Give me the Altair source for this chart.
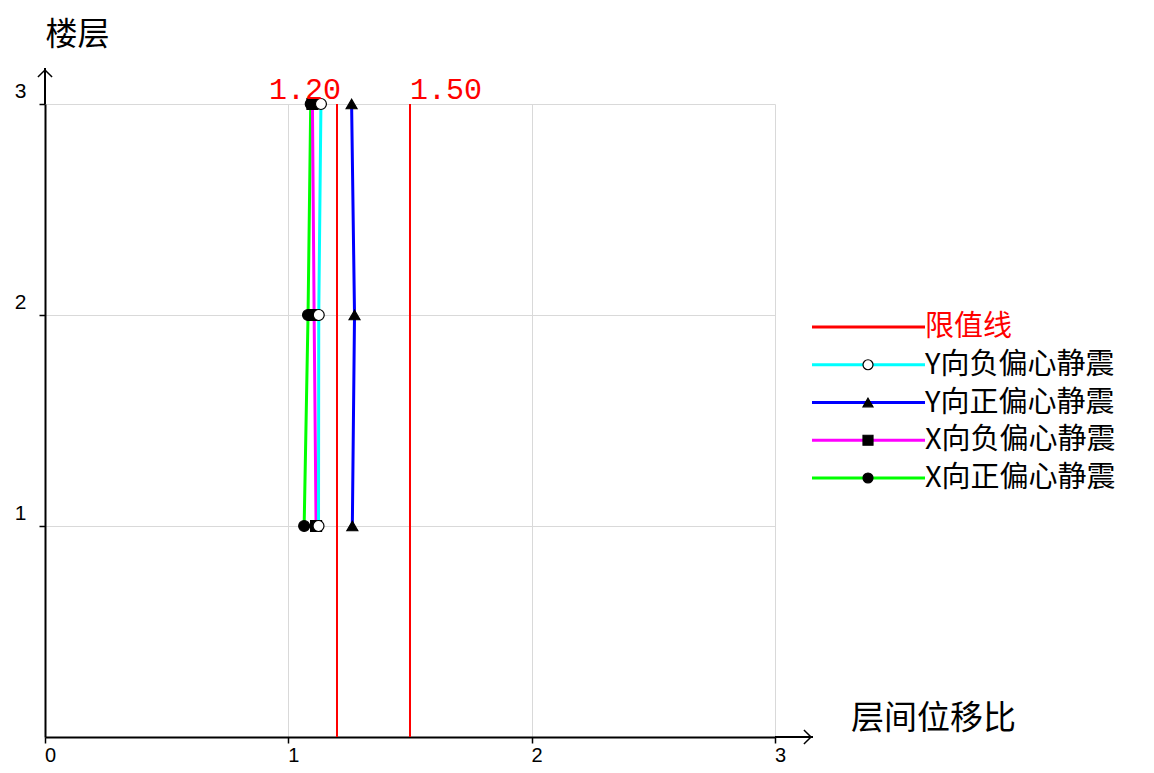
import altair as alt
import pandas as pd

# ---- data ----
floors = [1, 2, 3]
series_names = ["Y向负偏心静震", "Y向正偏心静震", "X向负偏心静震", "X向正偏心静震"]
y_neg_vals = [1.124, 1.125, 1.134]
y_pos_vals = [1.263, 1.272, 1.260]
x_neg_vals = [1.114, 1.106, 1.099]
x_pos_vals = [1.065, 1.081, 1.092]
limit_values = [1.20, 1.50]
limit_labels = ["1.20", "1.50"]
limit_name = "限值线"
x_ticks = [0, 1, 2, 3]
y_ticks = [1, 2, 3]

legend_names = [limit_name] + series_names
series_colors = ["#ff0000", "#00ffff", "#0000ff", "#ff00ff", "#00ff00"]
series_shapes = ["circle", "triangle-up", "square", "circle"]
series_fills = ["white", "black", "black", "black"]

all_vals = [y_neg_vals, y_pos_vals, x_neg_vals, x_pos_vals]
rows = []
# drawn in reverse legend order so the first legend series ends on top
for name, vals in reversed(list(zip(series_names, all_vals))):
    for f, v in zip(floors, vals):
        rows.append({"name": name, "floor": f, "ratio": v})
main_df = pd.DataFrame(rows)
limit_df = pd.DataFrame({"limit": limit_values, "label": limit_labels,
                         "name": [limit_name] * len(limit_values)})
leg_df = pd.DataFrame({"name": legend_names, "row": list(range(len(legend_names)))})
deco_df = pd.DataFrame({"a": [0]})

W, H = 730, 633
CJK = "Noto Sans CJK SC"

x_scale = alt.Scale(domain=[0, 3], nice=False, zero=False)
y_scale = alt.Scale(domain=[0, 3], nice=False, zero=False)
color_scale = alt.Scale(domain=legend_names, range=series_colors)
shape_scale = alt.Scale(domain=series_names, range=series_shapes)
fill_scale = alt.Scale(domain=series_names, range=series_fills)

x_axis = alt.Axis(values=x_ticks, format="d", grid=True, gridColor="#d9d9d9", gridWidth=1,
                  domainColor="black", domainWidth=2, tickColor="black", tickSize=6,
                  tickWidth=1.5, labelFont="Liberation Sans", labelFontSize=20,
                  labelColor="black", labelPadding=2, labelOffset=5, labelFlush=False,
                  labelBaseline="top",
                  title="层间位移比", titleFont=CJK, titleFontSize=33,
                  titleFontWeight="normal", titleColor="black", titleX=888, titleY=-19,
                  titleAlign="center", titleBaseline="middle")
y_axis = alt.Axis(values=y_ticks, format="d", grid=True, gridColor="#d9d9d9", gridWidth=1,
                  domainColor="black", domainWidth=2, tickColor="black", tickSize=6,
                  tickWidth=1.5, labelFont="Liberation Sans", labelFontSize=21,
                  labelColor="black", labelPadding=13, labelOffset=-13,
                  title="楼层", titleFont=CJK, titleFontSize=32, titleFontWeight="normal",
                  titleColor="black", titleAngle=0, titleX=32, titleY=-70,
                  titleAlign="center", titleBaseline="middle")

X = alt.X("ratio:Q", scale=x_scale, axis=x_axis)
Y = alt.Y("floor:Q", scale=y_scale, axis=y_axis)

base = alt.Chart(main_df)

limit_rules = alt.Chart(limit_df).mark_rule(strokeWidth=2).encode(
    x=alt.X("limit:Q", scale=x_scale, axis=x_axis),
    y=alt.value(0), y2=alt.value(H),
    color=alt.Color("name:N", scale=color_scale, legend=None),
)
limit_text_left = alt.Chart(limit_df).transform_filter("datum.limit < 1.3").mark_text(
    font="Liberation Mono", fontSize=30, color="red", align="right",
    baseline="alphabetic", dx=4, dy=-5,
).encode(x=alt.X("limit:Q", scale=x_scale), y=alt.value(0), text="label:N")
limit_text_right = alt.Chart(limit_df).transform_filter("datum.limit >= 1.3").mark_text(
    font="Liberation Mono", fontSize=30, color="red", align="left",
    baseline="alphabetic", dx=0, dy=-5,
).encode(x=alt.X("limit:Q", scale=x_scale), y=alt.value(0), text="label:N")

lines = base.mark_line(strokeWidth=3).encode(
    x=X, y=Y,
    color=alt.Color("name:N", scale=color_scale, legend=None),
    order=alt.Order("floor:Q"),
    detail="name:N",
)
points = base.mark_point(filled=True, size=120, stroke="black", strokeWidth=1.2, opacity=1).encode(
    x=X, y=Y,
    shape=alt.Shape("name:N", scale=shape_scale, legend=None),
    fill=alt.Fill("name:N", scale=fill_scale, legend=None),
)

# axis arrow decorations
x_ext = alt.Chart(deco_df).mark_rule(color="black", strokeWidth=2).encode(
    x=alt.value(W), x2=alt.value(W + 38), y=alt.value(H))
y_ext = alt.Chart(deco_df).mark_rule(color="black", strokeWidth=2).encode(
    x=alt.value(0), y=alt.value(-36), y2=alt.value(0))
x_arrow = alt.Chart(deco_df).mark_point(shape="M-1,-1L0,0L-1,1", size=200, filled=False,
                                        color="black", strokeWidth=1.5, opacity=1).encode(
    x=alt.value(W + 36), y=alt.value(H))
y_arrow = alt.Chart(deco_df).mark_point(shape="M-1,1L0,0L1,1", size=200, filled=False,
                                        color="black", strokeWidth=1.5, opacity=1).encode(
    x=alt.value(0), y=alt.value(-34))

main = alt.layer(limit_rules, lines, points, limit_text_left, limit_text_right,
                 x_ext, y_ext, x_arrow, y_arrow)

# manual legend
leg_y = alt.Y("row:Q", scale=alt.Scale(domain=[0, len(legend_names) - 1], range=[223, 374],
                                        nice=False, zero=False), axis=None)
leg_rules = alt.Chart(leg_df).mark_rule(strokeWidth=3).encode(
    x=alt.value(767), x2=alt.value(880), y=leg_y,
    color=alt.Color("name:N", scale=color_scale, legend=None),
)
leg_points = alt.Chart(leg_df).transform_filter(f"datum.name != '{limit_name}'").mark_point(
    filled=True, size=100, stroke="black", strokeWidth=1.2, opacity=1).encode(
    x=alt.value(823), y=leg_y,
    shape=alt.Shape("name:N", scale=shape_scale, legend=None),
    fill=alt.Fill("name:N", scale=fill_scale, legend=None),
)
leg_text = alt.Chart(leg_df).mark_text(font=CJK, fontSize=29, align="left",
                                       baseline="middle").encode(
    x=alt.value(880), y=leg_y, text="name:N",
    color=alt.condition(f"datum.name == '{limit_name}'", alt.value("red"), alt.value("black")),
)
legend = alt.layer(leg_rules, leg_points, leg_text)

chart = alt.layer(main, legend).resolve_scale(y="independent").properties(
    width=W, height=H,
    padding={"left": 37, "top": 96, "right": 371, "bottom": 28},
    autosize=alt.AutoSizeParams(type="none"),
    background="white",
).configure_view(stroke=None)

chart.save("out.html", embed_options={"renderer": "svg", "actions": False})
